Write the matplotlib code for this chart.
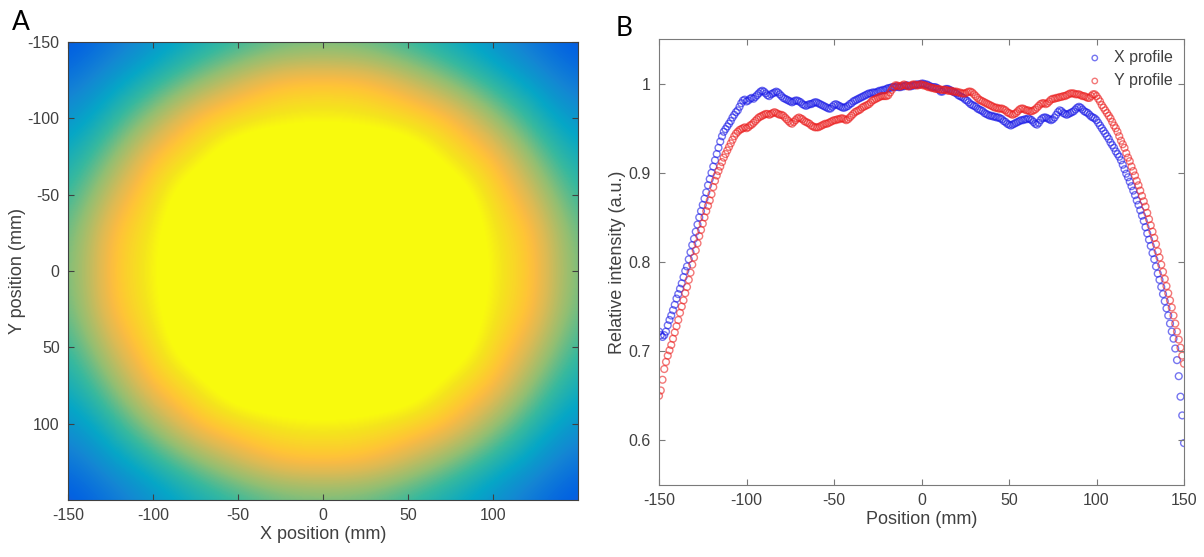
import numpy as np
import matplotlib
matplotlib.use("Agg")
import matplotlib.pyplot as plt
from matplotlib.colors import LinearSegmentedColormap

plt.rcParams['font.family'] = ['Liberation Sans', 'DejaVu Sans']
plt.rcParams['axes.unicode_minus'] = False

# relative intensity map, 25 mm grid, rows y=-150..150, columns x=-150..150
grid_pos = np.arange(-150, 151, 25)
intensity_map = np.array([
    [0.589, 0.625, 0.668, 0.704, 0.733, 0.758, 0.765, 0.758, 0.733, 0.704, 0.668, 0.625, 0.589],
    [0.625, 0.679, 0.726, 0.780, 0.830, 0.866, 0.870, 0.866, 0.830, 0.780, 0.726, 0.679, 0.625],
    [0.668, 0.726, 0.800, 0.870, 0.893, 0.907, 0.913, 0.907, 0.893, 0.870, 0.800, 0.726, 0.668],
    [0.704, 0.780, 0.870, 0.902, 0.955, 0.968, 0.970, 0.968, 0.955, 0.902, 0.870, 0.780, 0.704],
    [0.733, 0.830, 0.893, 0.955, 0.972, 0.978, 0.980, 0.978, 0.972, 0.955, 0.893, 0.830, 0.733],
    [0.758, 0.866, 0.907, 0.968, 0.978, 0.990, 0.995, 0.990, 0.978, 0.968, 0.907, 0.866, 0.758],
    [0.765, 0.870, 0.913, 0.970, 0.980, 0.995, 1.000, 0.995, 0.980, 0.970, 0.913, 0.870, 0.765],
    [0.758, 0.866, 0.907, 0.968, 0.978, 0.990, 0.995, 0.990, 0.978, 0.968, 0.907, 0.866, 0.758],
    [0.733, 0.830, 0.893, 0.955, 0.972, 0.978, 0.980, 0.978, 0.972, 0.955, 0.893, 0.830, 0.733],
    [0.704, 0.780, 0.870, 0.902, 0.955, 0.968, 0.970, 0.968, 0.955, 0.902, 0.870, 0.780, 0.704],
    [0.668, 0.726, 0.800, 0.870, 0.893, 0.907, 0.913, 0.907, 0.893, 0.870, 0.800, 0.726, 0.668],
    [0.625, 0.679, 0.726, 0.780, 0.830, 0.866, 0.870, 0.866, 0.830, 0.780, 0.726, 0.679, 0.625],
    [0.589, 0.625, 0.668, 0.704, 0.733, 0.758, 0.765, 0.758, 0.733, 0.704, 0.668, 0.625, 0.589],
])
map_min, map_max = 0.56, 0.92

# profiles, 1 mm steps from -150 to 150
position = np.arange(-150, 151, 1)
x_profile = [
    0.722, 0.718, 0.716, 0.718, 0.722, 0.729, 0.735, 0.740, 0.746, 0.752,
    0.759, 0.764, 0.770, 0.776, 0.783, 0.790, 0.795, 0.803, 0.811, 0.819,
    0.826, 0.834, 0.842, 0.850, 0.857, 0.864, 0.871, 0.878, 0.886, 0.893,
    0.900, 0.907, 0.914, 0.921, 0.928, 0.935, 0.941, 0.946, 0.949, 0.952,
    0.955, 0.958, 0.962, 0.965, 0.968, 0.970, 0.974, 0.978, 0.981, 0.982,
    0.980, 0.981, 0.983, 0.984, 0.983, 0.985, 0.987, 0.989, 0.991, 0.992,
    0.991, 0.989, 0.987, 0.986, 0.988, 0.989, 0.990, 0.991, 0.990, 0.988,
    0.986, 0.984, 0.983, 0.982, 0.981, 0.980, 0.979, 0.980, 0.981, 0.981,
    0.980, 0.979, 0.977, 0.976, 0.975, 0.976, 0.977, 0.977, 0.978, 0.979,
    0.979, 0.978, 0.977, 0.976, 0.975, 0.974, 0.973, 0.972, 0.972, 0.974,
    0.976, 0.977, 0.976, 0.975, 0.974, 0.973, 0.973, 0.974, 0.975, 0.977,
    0.978, 0.980, 0.981, 0.982, 0.983, 0.984, 0.985, 0.986, 0.987, 0.988,
    0.989, 0.989, 0.990, 0.990, 0.990, 0.991, 0.992, 0.992, 0.993, 0.993,
    0.994, 0.995, 0.995, 0.996, 0.996, 0.996, 0.997, 0.996, 0.996, 0.997,
    0.997, 0.998, 0.998, 0.997, 0.997, 0.998, 0.998, 0.999, 0.999, 0.999,
    1.000, 1.000, 0.999, 0.999, 0.998, 0.997, 0.996, 0.996, 0.996, 0.995,
    0.993, 0.991, 0.991, 0.993, 0.994, 0.994, 0.993, 0.992, 0.991, 0.990,
    0.989, 0.987, 0.986, 0.985, 0.984, 0.982, 0.981, 0.979, 0.977, 0.976,
    0.975, 0.974, 0.972, 0.971, 0.970, 0.969, 0.967, 0.966, 0.965, 0.964,
    0.964, 0.963, 0.963, 0.962, 0.962, 0.961, 0.960, 0.958, 0.957, 0.955,
    0.954, 0.953, 0.954, 0.955, 0.956, 0.957, 0.958, 0.959, 0.959, 0.960,
    0.960, 0.961, 0.960, 0.959, 0.957, 0.955, 0.954, 0.956, 0.959, 0.961,
    0.962, 0.962, 0.961, 0.960, 0.959, 0.960, 0.962, 0.965, 0.968, 0.970,
    0.969, 0.967, 0.966, 0.965, 0.966, 0.967, 0.968, 0.969, 0.971, 0.973,
    0.974, 0.973, 0.971, 0.969, 0.968, 0.967, 0.965, 0.963, 0.962, 0.961,
    0.959, 0.956, 0.953, 0.950, 0.947, 0.944, 0.941, 0.938, 0.934, 0.931,
    0.928, 0.924, 0.921, 0.918, 0.914, 0.909, 0.904, 0.899, 0.895, 0.890,
    0.885, 0.880, 0.875, 0.869, 0.864, 0.858, 0.852, 0.846, 0.839, 0.832,
    0.825, 0.818, 0.810, 0.803, 0.795, 0.787, 0.780, 0.772, 0.764, 0.756,
    0.748, 0.740, 0.731, 0.722, 0.714, 0.703, 0.690, 0.672, 0.649, 0.628,
    0.597,
]
y_profile = [
    0.650, 0.656, 0.668, 0.680, 0.688, 0.695, 0.701, 0.707, 0.714, 0.721,
    0.728, 0.735, 0.743, 0.750, 0.757, 0.765, 0.772, 0.780, 0.788, 0.797,
    0.805, 0.813, 0.821, 0.829, 0.836, 0.843, 0.850, 0.857, 0.863, 0.869,
    0.876, 0.884, 0.891, 0.897, 0.902, 0.907, 0.912, 0.917, 0.921, 0.925,
    0.929, 0.933, 0.937, 0.941, 0.944, 0.946, 0.948, 0.949, 0.950, 0.951,
    0.950, 0.951, 0.953, 0.954, 0.956, 0.958, 0.960, 0.962, 0.963, 0.964,
    0.965, 0.966, 0.966, 0.965, 0.966, 0.967, 0.968, 0.967, 0.966, 0.965,
    0.965, 0.964, 0.962, 0.960, 0.958, 0.956, 0.955, 0.957, 0.959, 0.961,
    0.962, 0.961, 0.960, 0.958, 0.957, 0.956, 0.955, 0.953, 0.952, 0.951,
    0.951, 0.951, 0.952, 0.953, 0.954, 0.955, 0.955, 0.956, 0.957, 0.958,
    0.959, 0.959, 0.960, 0.960, 0.961, 0.961, 0.960, 0.959, 0.960, 0.962,
    0.964, 0.966, 0.968, 0.969, 0.970, 0.971, 0.973, 0.974, 0.975, 0.976,
    0.977, 0.979, 0.981, 0.982, 0.983, 0.984, 0.985, 0.986, 0.986, 0.986,
    0.986, 0.987, 0.990, 0.993, 0.996, 0.998, 0.998, 0.997, 0.997, 0.998,
    0.999, 0.998, 0.997, 0.997, 0.998, 0.999, 0.999, 0.998, 0.998, 0.999,
    0.999, 0.998, 0.998, 0.997, 0.996, 0.996, 0.995, 0.995, 0.994, 0.994,
    0.994, 0.993, 0.993, 0.993, 0.993, 0.992, 0.992, 0.992, 0.991, 0.991,
    0.991, 0.990, 0.990, 0.989, 0.989, 0.989, 0.990, 0.991, 0.991, 0.990,
    0.988, 0.986, 0.984, 0.982, 0.981, 0.980, 0.979, 0.978, 0.977, 0.976,
    0.975, 0.974, 0.973, 0.973, 0.972, 0.972, 0.972, 0.971, 0.970, 0.968,
    0.967, 0.966, 0.965, 0.966, 0.967, 0.969, 0.971, 0.972, 0.972, 0.971,
    0.970, 0.970, 0.969, 0.969, 0.970, 0.971, 0.973, 0.975, 0.977, 0.978,
    0.978, 0.977, 0.978, 0.980, 0.982, 0.983, 0.983, 0.984, 0.984, 0.985,
    0.985, 0.986, 0.986, 0.987, 0.988, 0.989, 0.989, 0.989, 0.988, 0.988,
    0.988, 0.987, 0.986, 0.986, 0.985, 0.984, 0.984, 0.986, 0.988, 0.988,
    0.986, 0.983, 0.980, 0.976, 0.973, 0.970, 0.967, 0.964, 0.961, 0.957,
    0.953, 0.950, 0.946, 0.941, 0.936, 0.932, 0.928, 0.922, 0.917, 0.913,
    0.907, 0.902, 0.897, 0.891, 0.886, 0.880, 0.874, 0.868, 0.862, 0.855,
    0.848, 0.841, 0.834, 0.827, 0.820, 0.812, 0.805, 0.797, 0.789, 0.781,
    0.773, 0.765, 0.757, 0.749, 0.740, 0.731, 0.722, 0.713, 0.704, 0.695,
    0.686,
]

# parula colormap (sampled)
parula = LinearSegmentedColormap.from_list("parula", [
    (0 / 63, (0.2081, 0.1663, 0.5292)),
    (4 / 63, (0.1959, 0.2645, 0.7279)),
    (6 / 63, (0.1253, 0.3242, 0.8303)),
    (8 / 63, (0.0117, 0.3875, 0.8820)),
    (16 / 63, (0.0793, 0.5200, 0.8312)),
    (24 / 63, (0.0228, 0.6535, 0.7768)),
    (32 / 63, (0.2178, 0.7250, 0.6193)),
    (40 / 63, (0.5709, 0.7485, 0.4494)),
    (48 / 63, (0.8507, 0.7299, 0.3360)),
    (52 / 63, (0.9739, 0.7314, 0.2666)),
    (54 / 63, (0.9990, 0.7653, 0.2164)),
    (56 / 63, (0.9880, 0.8066, 0.1794)),
    (60 / 63, (0.9589, 0.8949, 0.1132)),
    (63 / 63, (0.9763, 0.9831, 0.0538)),
])

text_col = "#404040"
spine_col = "#7a7a7a"

fig = plt.figure(figsize=(12.04, 5.57), dpi=100)

# ---- panel A
axA = fig.add_axes([68/1204, 1 - 500/557, 510/1204, 458/557])
step = grid_pos[1] - grid_pos[0]
axA.imshow(intensity_map, cmap=parula, vmin=map_min, vmax=map_max, interpolation='bicubic',
           aspect='auto', origin='upper',
           extent=(grid_pos[0] - step/2, grid_pos[-1] + step/2,
                   grid_pos[-1] + step/2, grid_pos[0] - step/2))
axA.set_xlim(-150, 150)
axA.set_ylim(150, -150)
axA.set_xticks([-150, -100, -50, 0, 50, 100])
axA.set_yticks([-150, -100, -50, 0, 50, 100])
axA.set_xlabel("X position (mm)", fontsize=13, color=text_col, labelpad=2)
axA.set_ylabel("Y position (mm)", fontsize=13, color=text_col, labelpad=1)
axA.tick_params(direction='in', top=True, right=True, length=4, labelsize=11.5,
                labelcolor=text_col, color="#404040", pad=6)
for s in axA.spines.values():
    s.set_color("#404040")
    s.set_linewidth(0.8)
fig.text(12/1204, 1 - 30/557, "A", fontsize=19, family=['Lato', 'DejaVu Sans'])

# ---- panel B
axB = fig.add_axes([659/1204, 1 - 485/557, 525/1204, 446/557])
axB.scatter(position, x_profile, s=24, facecolors='none', edgecolors=(0.1, 0.1, 0.9, 0.6),
            linewidths=1.0, label="X profile")
axB.scatter(position, y_profile, s=24, facecolors='none', edgecolors=(0.92, 0.12, 0.12, 0.6),
            linewidths=1.0, label="Y profile")
axB.set_xlim(-150, 150)
axB.set_ylim(0.55, 1.05)
axB.set_xticks([-150, -100, -50, 0, 50, 100, 150])
axB.set_yticks([0.6, 0.7, 0.8, 0.9, 1.0])
axB.set_yticklabels(["0.6", "0.7", "0.8", "0.9", "1"])
axB.set_xlabel("Position (mm)", fontsize=13, color=text_col, labelpad=2)
axB.set_ylabel("Relative intensity (a.u.)", fontsize=13, color=text_col, labelpad=2)
axB.tick_params(direction='in', top=True, right=True, length=4, labelsize=11.5,
                labelcolor=text_col, color=spine_col, pad=6)
for s in axB.spines.values():
    s.set_color(spine_col)
    s.set_linewidth(0.8)
axB.legend(loc='upper right', frameon=False, fontsize=11.5, handletextpad=0.6,
           borderaxespad=0.3, labelcolor=text_col, markerscale=0.8, handlelength=1.2)
fig.text(616/1204, 1 - 36/557, "B", fontsize=19, family=['Lato', 'DejaVu Sans'])

fig.savefig("out.png", dpi=100)
